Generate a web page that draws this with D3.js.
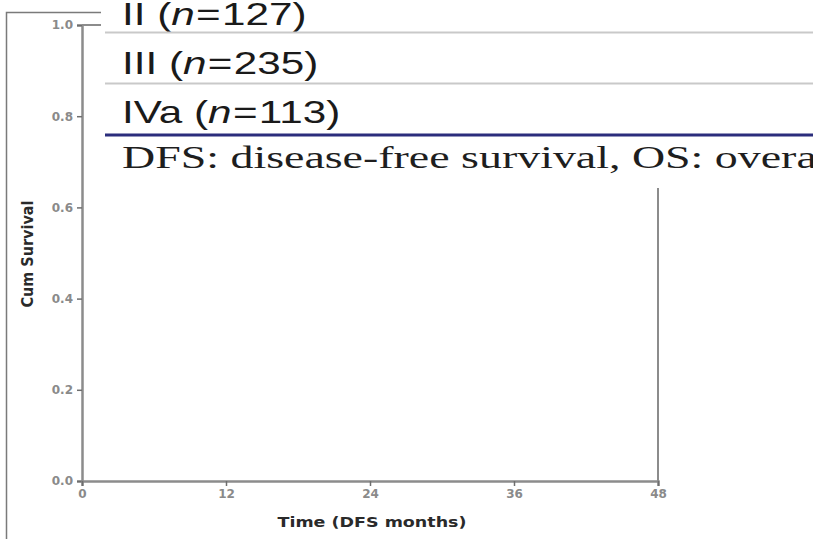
<!DOCTYPE html>
<html>
<head>
<meta charset="utf-8">
<script src="https://cdn.jsdelivr.net/npm/d3@7"></script>
<style>
  body { margin: 0; background: #fff; }
  svg { display: block; }
  .tick text { fill: #8a8a8a; font-family: "DejaVu Sans", sans-serif; font-weight: bold; }
</style>
</head>
<body>
<svg id="chart" width="813" height="539"></svg>
<script>
// --- Data ------------------------------------------------------------------
const xTicks = [0, 12, 24, 36, 48];
const yTicks = [0, 0.2, 0.4, 0.6, 0.8, 1.0];
const xTitle = "Time (DFS months)";
const yTitle = "Cum Survival";
// table fragment pasted over the top of the figure
const stages = ["II", "III", "IVa"];
const stageN = [127, 235, 113];
const footnote = "DFS: disease-free survival, OS: overall survival";

// --- Layout ----------------------------------------------------------------
const svg = d3.select("#chart");
const W = 813, H = 539;
const plot = { left: 82, right: 658, top: 25, bottom: 481 };

const x = d3.scaleLinear().domain([0, 48]).range([plot.left, plot.right]);
const y = d3.scaleLinear().domain([0, 1]).range([plot.bottom, plot.top]);

// outer frame of the figure panel
svg.append("path")
  .attr("d", `M6.5,${H} V12.5 H120`)
  .attr("fill", "none").attr("stroke", "#7a7a7a").attr("stroke-width", 1.5);

// plot frame (top + right)
svg.append("path")
  .attr("d", `M${plot.left},${plot.top} H${plot.right} V${plot.bottom}`)
  .attr("fill", "none").attr("stroke", "#8c8c8c").attr("stroke-width", 2);

// axes
const yAxis = svg.append("g")
  .attr("transform", `translate(${plot.left},0)`)
  .call(d3.axisLeft(y).tickValues(yTicks).tickFormat(d3.format(".1f")).tickSize(5).tickPadding(4));
const xAxis = svg.append("g")
  .attr("transform", `translate(0,${plot.bottom})`)
  .call(d3.axisBottom(x).tickValues(xTicks).tickSize(5).tickPadding(3));

for (const ax of [xAxis, yAxis]) {
  ax.select(".domain").attr("stroke", "#8c8c8c").attr("stroke-width", 2.5);
  ax.selectAll(".tick line").attr("stroke", "#6e6e6e").attr("stroke-width", 1.5);
  ax.selectAll(".tick text").attr("font-size", 12);
}

svg.append("text")
  .attr("x", 372).attr("y", 527)
  .attr("text-anchor", "middle")
  .attr("font-family", "DejaVu Sans, sans-serif").attr("font-weight", "bold")
  .attr("font-size", 14).attr("fill", "#2a2a2a")
  .attr("textLength", 189).attr("lengthAdjust", "spacingAndGlyphs")
  .text(xTitle);

svg.append("text")
  .attr("transform", "translate(33,254) rotate(-90)")
  .attr("text-anchor", "middle")
  .attr("font-family", "DejaVu Sans, sans-serif").attr("font-weight", "bold")
  .attr("font-size", 15).attr("fill", "#2a2a2a")
  .attr("textLength", 107).attr("lengthAdjust", "spacingAndGlyphs")
  .text(yTitle);

// --- Table overlay ---------------------------------------------------------
const ov = svg.append("g");
ov.append("rect")
  .attr("x", 101).attr("y", 0).attr("width", W - 101).attr("height", 188)
  .attr("fill", "#fff");

const rowY = d3.scalePoint().domain(stages).range([25, 123]);
const rows = ov.selectAll("text.row")
  .data(stages.map((s, i) => ({ stage: s, n: stageN[i] })))
  .enter().append("text")
  .attr("class", "row")
  .attr("transform", d => `translate(122,${rowY(d.stage)}) scale(1.32,1)`)
  .attr("font-family", "Liberation Sans, Arial, sans-serif")
  .attr("font-size", 32).attr("fill", "#1a1a1a");
rows.append("tspan").text(d => d.stage + " (");
rows.append("tspan").attr("font-style", "italic").text("n");
rows.append("tspan").attr("dx", 1).text("=");
rows.append("tspan").attr("dx", 1).text(d => d.n + ")");

// row rules
const ruleY = [32.5, 83.5];
ov.selectAll("line.rule").data(ruleY).enter().append("line")
  .attr("x1", 105).attr("x2", W).attr("y1", d => d).attr("y2", d => d)
  .attr("stroke", "#c9c9c9").attr("stroke-width", 2);
ov.append("line")
  .attr("x1", 105).attr("x2", W).attr("y1", 135).attr("y2", 135)
  .attr("stroke", "#2b2d7c").attr("stroke-width", 3);

ov.append("text")
  .attr("transform", "translate(122,168) scale(1.435,1)")
  .attr("font-family", "Liberation Serif, Times New Roman, serif")
  .attr("font-size", 32).attr("fill", "#1e1e1e")
  .text(footnote);
</script>
</body>
</html>
